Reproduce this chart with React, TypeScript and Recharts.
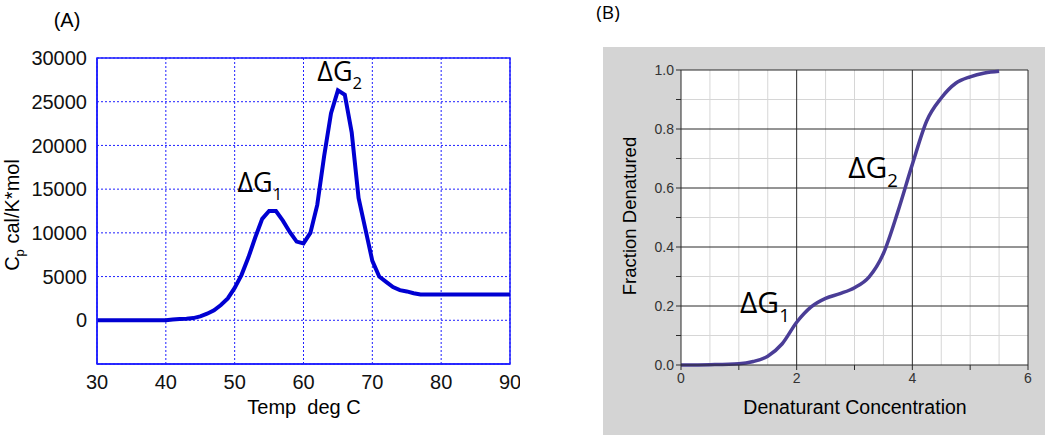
import { LineChart, Line, XAxis, YAxis, CartesianGrid, ReferenceArea, ReferenceLine, ReferenceDot } from 'recharts';

// (A) heat capacity scan
const tempC = [30, 35, 40, 41, 42, 43, 44, 45, 46, 47, 48, 49, 50, 51, 52, 53, 54, 55, 56, 57, 58, 59, 60, 61, 62, 63, 64, 65, 66, 67, 68, 69, 70, 71, 72, 73, 74, 75, 76, 77, 80, 85, 90];
const cpValues = [0, 0, 0, 100, 150, 180, 250, 450, 750, 1150, 1750, 2500, 3700, 5200, 7200, 9500, 11600, 12500, 12500, 11400, 10100, 9000, 8800, 10000, 13200, 18800, 23700, 26300, 25800, 21500, 14000, 10400, 6800, 5000, 4400, 3800, 3450, 3300, 3100, 2950, 2950, 2950, 2950];
const tempTicks = [30, 40, 50, 60, 70, 80, 90];
const cpTicks = [0, 5000, 10000, 15000, 20000, 25000, 30000];

// (B) denaturation curve
const concentration = [0, 0.5, 1, 1.25, 1.5, 1.75, 2, 2.25, 2.5, 2.75, 3, 3.25, 3.5, 3.75, 4, 4.25, 4.5, 4.75, 5, 5.25, 5.5];
const fraction = [0, 0.001, 0.004, 0.012, 0.03, 0.072, 0.145, 0.197, 0.226, 0.242, 0.262, 0.298, 0.378, 0.52, 0.68, 0.828, 0.905, 0.955, 0.977, 0.99, 0.996];
const concTicks = [0, 1, 2, 3, 4, 5, 6];
const fracTicks = [0, 0.1, 0.2, 0.3, 0.4, 0.5, 0.6, 0.7, 0.8, 0.9, 1.0];
const minorConc = [0.5, 1, 1.5, 2.5, 3, 3.5, 4.5, 5, 5.5];
const majorConc = [2, 4];
const minorFrac = [0.1, 0.3, 0.5, 0.7, 0.9];
const majorFrac = [0.2, 0.4, 0.6, 0.8];

const cpData = tempC.map((t, i) => ({ t, cp: cpValues[i] }));
const fracData = concentration.map((c, i) => ({ c, f: fraction[i] }));

const arial = '"Liberation Sans", Arial, sans-serif';
const calibri = '"Open Sans", "Noto Sans", sans-serif';

function DeltaG(sub: string, size: number) {
  return (props: any) => (
    <text x={props.cx} y={props.cy} fontFamily={calibri} fontSize={size} fill="#000">
      ΔG
      <tspan fontSize={size * 0.62} dy={size * 0.3}>{sub}</tspan>
    </text>
  );
}

const abs = (left: number, top: number, extra: any = {}) => ({
  position: 'absolute' as const, left, top, ...extra,
});

export default function App() {
  return (
    <div style={{ position: 'absolute', left: 0, top: 0, width: 1050, height: 435, background: '#fff', overflow: 'hidden' }}>
      {/* Panel A */}
      <div style={abs(0, 0)}>
        <LineChart width={520} height={435} data={cpData} margin={{ top: 58, right: 10, left: 0, bottom: 41 }}>
          <CartesianGrid stroke="#1f1fff" strokeDasharray="2 2" strokeWidth={1} />
          <XAxis
            dataKey="t"
            type="number"
            domain={[30, 90]}
            ticks={tempTicks}
            tickLine={false}
            axisLine={{ stroke: '#1f1fff', strokeWidth: 1.5 }}
            tickMargin={5}
            tick={{ fill: '#111', fontSize: 20, fontFamily: arial }}
            height={30}
          />
          <YAxis
            type="number"
            domain={[-5000, 30000]}
            ticks={cpTicks}
            tickLine={false}
            axisLine={{ stroke: '#1f1fff', strokeWidth: 1.5 }}
            tickMargin={4}
            tick={{ fill: '#111', fontSize: 20, fontFamily: arial }}
            width={97}
          />
          <ReferenceArea x1={30} x2={90} y1={-5000} y2={30000} fill="none" stroke="#1f1fff" strokeWidth={1.5} />
          <Line type="linear" dataKey="cp" stroke="#0000d2" strokeWidth={4} dot={false} isAnimationActive={false} />
          <ReferenceDot x={50.4} y={14700} r={0} shape={DeltaG('1', 27)} />
          <ReferenceDot x={62} y={27400} r={0} shape={DeltaG('2', 27)} />
        </LineChart>
      </div>
      <div style={abs(67, 20, { transform: 'translate(-50%,-50%)', fontFamily: arial, fontSize: 20 })}>(A)</div>
      <div style={abs(304, 407, { transform: 'translate(-50%,-50%)', fontFamily: arial, fontSize: 20, whiteSpace: 'pre' })}>Temp  deg C</div>
      <div style={abs(14, 215, { transform: 'translate(-50%,-50%) rotate(-90deg)', fontFamily: arial, fontSize: 20, whiteSpace: 'pre' })}>
        C<sub style={{ fontSize: 13 }}>p</sub> cal/K*mol
      </div>

      {/* Panel B */}
      <div style={abs(603, 47, { width: 442, height: 388, background: '#d4d4d4' })}>
        <LineChart width={442} height={388} data={fracData} margin={{ top: 23, right: 17, left: 0, bottom: 40 }}>
          <ReferenceArea x1={0} x2={6} y1={0} y2={1} fill="#ffffff" fillOpacity={1} stroke="none" />
          {minorConc.map((c) => (
            <ReferenceLine key={`mc-${c}`} x={c} stroke="#d6d6d6" strokeWidth={1} />
          ))}
          {minorFrac.map((f) => (
            <ReferenceLine key={`mf-${f}`} y={f} stroke="#d6d6d6" strokeWidth={1} />
          ))}
          {majorConc.map((c) => (
            <ReferenceLine key={`Mc-${c}`} x={c} stroke="#2a2a2a" strokeWidth={1} />
          ))}
          {majorFrac.map((f) => (
            <ReferenceLine key={`Mf-${f}`} y={f} stroke="#2a2a2a" strokeWidth={1} />
          ))}
          <ReferenceLine y={1} stroke="#2a2a2a" strokeWidth={1} />
          <ReferenceLine x={6} stroke="#2a2a2a" strokeWidth={1} />
          <XAxis
            dataKey="c"
            type="number"
            domain={[0, 6]}
            ticks={concTicks}
            tickFormatter={(v: number) => (v % 2 === 0 ? String(v) : '')}
            tickSize={5}
            tickMargin={3}
            stroke="#2a2a2a"
            tick={{ fill: '#333', fontSize: 14, fontFamily: arial }}
            height={30}
          />
          <YAxis
            type="number"
            domain={[0, 1]}
            ticks={fracTicks}
            tickFormatter={(v: number, i: number) => (i % 2 === 0 ? v.toFixed(1) : '')}
            tickSize={5}
            tickMargin={2}
            stroke="#2a2a2a"
            tick={{ fill: '#333', fontSize: 14, fontFamily: arial }}
            width={78}
          />
          <Line type="monotone" dataKey="f" stroke="#4a3d96" strokeWidth={3.5} dot={false} isAnimationActive={false} />
          <ReferenceDot x={1.02} y={0.175} r={0} shape={DeltaG('1', 30)} />
          <ReferenceDot x={2.89} y={0.633} r={0} shape={DeltaG('2', 30)} />
        </LineChart>
      </div>
      <div style={abs(608, 12, { transform: 'translate(-50%,-50%)', fontFamily: calibri, fontSize: 19 })}>(B)</div>
      <div style={abs(855, 407, { transform: 'translate(-50%,-50%)', fontFamily: arial, fontSize: 19.5, whiteSpace: 'pre' })}>Denaturant Concentration</div>
      <div style={abs(630, 216, { transform: 'translate(-50%,-50%) rotate(-90deg)', fontFamily: arial, fontSize: 18.5, whiteSpace: 'pre' })}>Fraction Denatured</div>
    </div>
  );
}
